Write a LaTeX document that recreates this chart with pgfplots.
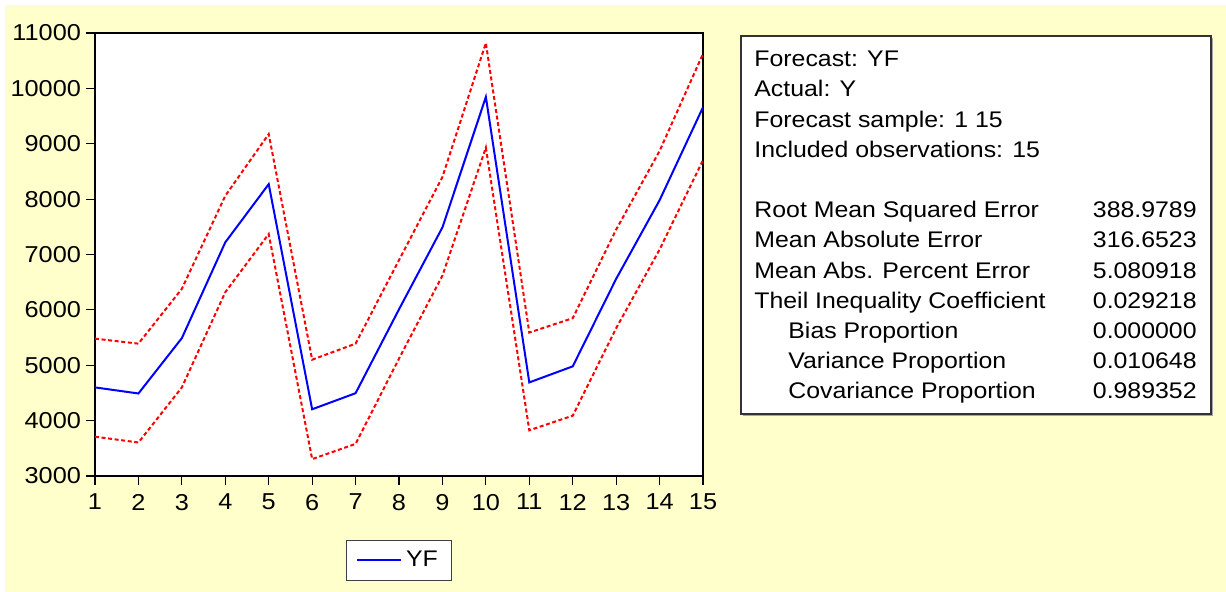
\documentclass[border=0pt]{standalone}
\usepackage{fontspec}
\setmainfont{Liberation Sans}[FakeStretch=1.1]
\usepackage{pgfplots}
\usepackage{pgfplotstable}
\pgfplotsset{compat=1.18}
\definecolor{bgyellow}{RGB}{255,255,204}
\pgfplotstableread{
x yf upper lower
1 4600 5480 3710
2 4490 5390 3605
3 5490 6380 4600
4 7220 8060 6320
5 8270 9175 7370
6 4205 5100 3305
7 4495 5390 3580
8 6010 6900 5120
9 7490 8400 6620
10 9845 10820 8930
11 4690 5590 3825
12 4980 5850 4090
13 6560 7450 5670
14 7980 8870 7090
15 9660 10625 8705
}\fcdata
\newcommand{\txt}{\fontsize{11.3bp}{13bp}\selectfont}
\newcommand{\tck}{\fontsize{11.5bp}{13bp}\selectfont}
\begin{document}
\begin{tikzpicture}[x=0.5bp,y=0.5bp]
\fill[white] (0,0) rectangle (1226,592);
\fill[bgyellow] (5,0) rectangle (1226,587);
\begin{axis}[
  at={(47.5bp,58bp)}, anchor=south west,
  width=304bp, height=221.5bp, scale only axis,
  xmin=1, xmax=15, ymin=3000, ymax=11000,
  xtick={1,...,15}, ytick={3000,4000,...,11000},
  scaled y ticks=false,
  xtick pos=bottom, ytick pos=left,
  tick align=outside, major tick length=4.5bp,
  axis line style={line width=1bp},
  every tick/.style={black, line width=0.6bp},
  axis background/.style={fill=white},
  /pgf/number format/assume math mode=true,
  /pgf/number format/1000 sep={},
  ticklabel style={font=\tck},
  yticklabel style={xshift=1bp},
  xticklabel style={yshift=-1bp},
  legend style={at={(0.5,-0.1907)}, anchor=center, draw=black!75,
    line width=0.6bp, fill=white, font=\txt,
    inner xsep=5bp, inner ysep=3.5bp},
  legend image code/.code={\draw[#1] (0bp,0bp) -- (22bp,0bp);},
]
\addplot[red, line width=1bp, dash pattern=on 2bp off 1.3bp, forget plot] table[x=x,y=upper]{\fcdata};
\addplot[red, line width=1bp, dash pattern=on 2bp off 1.3bp, forget plot] table[x=x,y=lower]{\fcdata};
\addplot[blue, line width=1bp] table[x=x,y=yf]{\fcdata};
\addlegendentry{YF}
\end{axis}
% statistics box
\fill[black!35] (743,176) rectangle (1213,554);
\draw[fill=white, draw=black!80, line width=0.6bp] (741,178) rectangle (1211,556);
\begin{scope}[every node/.style={font=\txt, inner sep=0pt}]
\node[anchor=base west] at (754,525.5) {Forecast: YF};
\node[anchor=base west] at (754,495.2) {Actual: Y};
\node[anchor=base west] at (754,464.9) {Forecast sample: 1 15};
\node[anchor=base west] at (754,434.6) {Included observations: 15};
\node[anchor=base west] at (754,374.3) {Root Mean Squared Error};
\node[anchor=base west] at (754,344.1) {Mean Absolute Error};
\node[anchor=base west] at (754,313.9) {Mean Abs. Percent Error};
\node[anchor=base west] at (754,283.7) {Theil Inequality Coefficient};
\node[anchor=base west] at (788,253.5) {Bias Proportion};
\node[anchor=base west] at (788,223.3) {Variance Proportion};
\node[anchor=base west] at (788,193.1) {Covariance Proportion};
\node[anchor=base east] at (1197,374.3) {388.9789};
\node[anchor=base east] at (1197,344.1) {316.6523};
\node[anchor=base east] at (1197,313.9) {5.080918};
\node[anchor=base east] at (1197,283.7) {0.029218};
\node[anchor=base east] at (1197,253.5) {0.000000};
\node[anchor=base east] at (1197,223.3) {0.010648};
\node[anchor=base east] at (1197,193.1) {0.989352};
\end{scope}
\end{tikzpicture}
\end{document}
